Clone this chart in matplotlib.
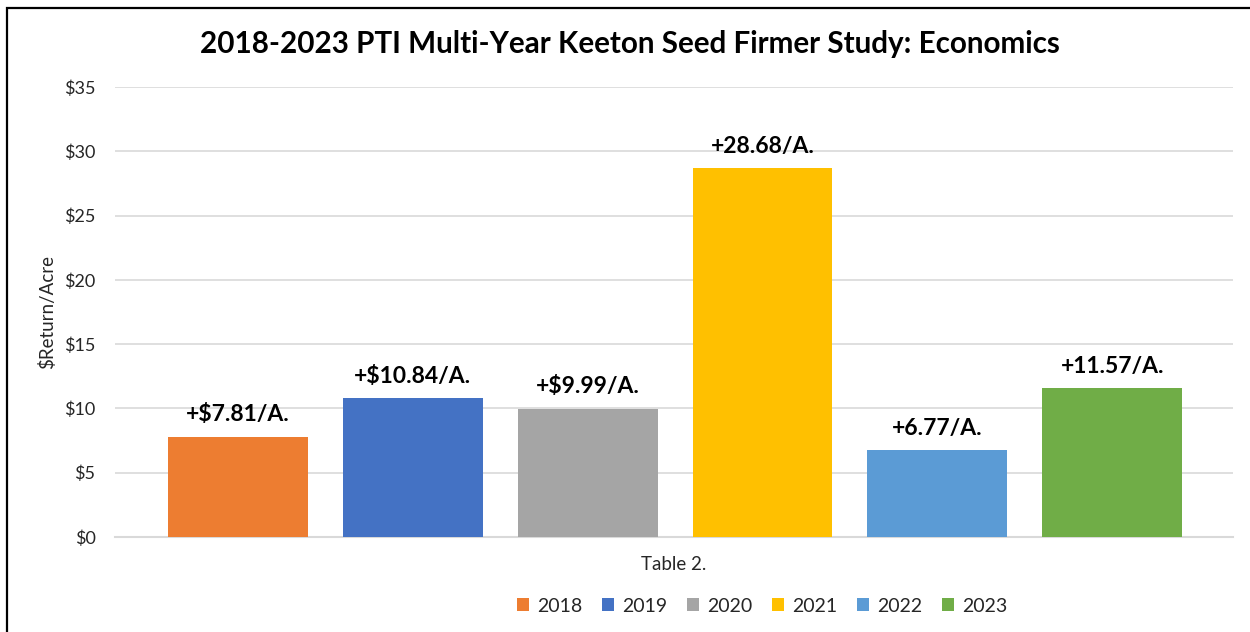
import matplotlib.pyplot as plt
from matplotlib.patches import Rectangle

years = ["2018", "2019", "2020", "2021", "2022", "2023"]
returns = [7.81, 10.84, 9.99, 28.68, 6.77, 11.57]
labels = ["+$7.81/A.", "+$10.84/A.", "+$9.99/A.", "+28.68/A.", "+6.77/A.", "+11.57/A."]
colors = ["#ED7D31", "#4472C4", "#A5A5A5", "#FFC000", "#5B9BD5", "#70AD47"]
yticks = [0, 5, 10, 15, 20, 25, 30, 35]

plt.rcParams['font.family'] = ['Lato', 'DejaVu Sans']
W, H = 1250, 632
fig = plt.figure(figsize=(W / 100, H / 100), dpi=100, facecolor='w')
ax = fig.add_axes([115 / W, 1 - 537 / H, 1118 / W, 450 / H])

handles = []
for i, (yr, val, lab, col) in enumerate(zip(years, returns, labels, colors)):
    b = ax.bar(i, val, width=0.8, color=col, label=yr, zorder=3)
    handles.append(b)
    ax.annotate(lab, (i, val), xytext=(0, 8), textcoords='offset points',
                ha='center', va='bottom', fontsize=16.5, fontweight='bold', color='#000000')

ax.set_xlim(-0.703, 5.691)
ax.set_ylim(0, 35)
ax.set_yticks(yticks)
ax.set_yticklabels(["$" + str(t) for t in yticks], fontsize=13, color='#262626')
ax.tick_params(axis='y', length=0, pad=14)
ax.set_xticks([])
ax.grid(axis='y', color='#D9D9D9', linewidth=1.2, zorder=0)
for s in ['top', 'right', 'left']:
    ax.spines[s].set_visible(False)
ax.spines['bottom'].set_color('#D9D9D9')
ax.spines['bottom'].set_linewidth(1.5)
ax.set_xlabel("Table 2.", fontsize=13.5, color='#262626', labelpad=14)
ax.set_ylabel("$Return/Acre", fontsize=13.5, color='#262626', labelpad=6)

fig.text(630 / W, 1 - 44 / H, "2018-2023 PTI Multi-Year Keeton Seed Firmer Study: Economics",
         ha='center', va='center', fontsize=21.3, fontweight='bold', color='#000000')

fig.legend(handles=handles, labels=years, loc='center', bbox_to_anchor=(762 / W, 1 - 606 / H),
           ncol=6, frameon=False, fontsize=14, handlelength=0.65, handleheight=0.65,
           handletextpad=0.4, columnspacing=1.0, labelcolor='#262626')

fig.patches.append(Rectangle((7 / W, -0.1), 1.2, 1 - 8 / H + 0.1, transform=fig.transFigure,
                             fill=False, edgecolor='black', linewidth=1.6, figure=fig))

fig.savefig("out.png", dpi=100)
